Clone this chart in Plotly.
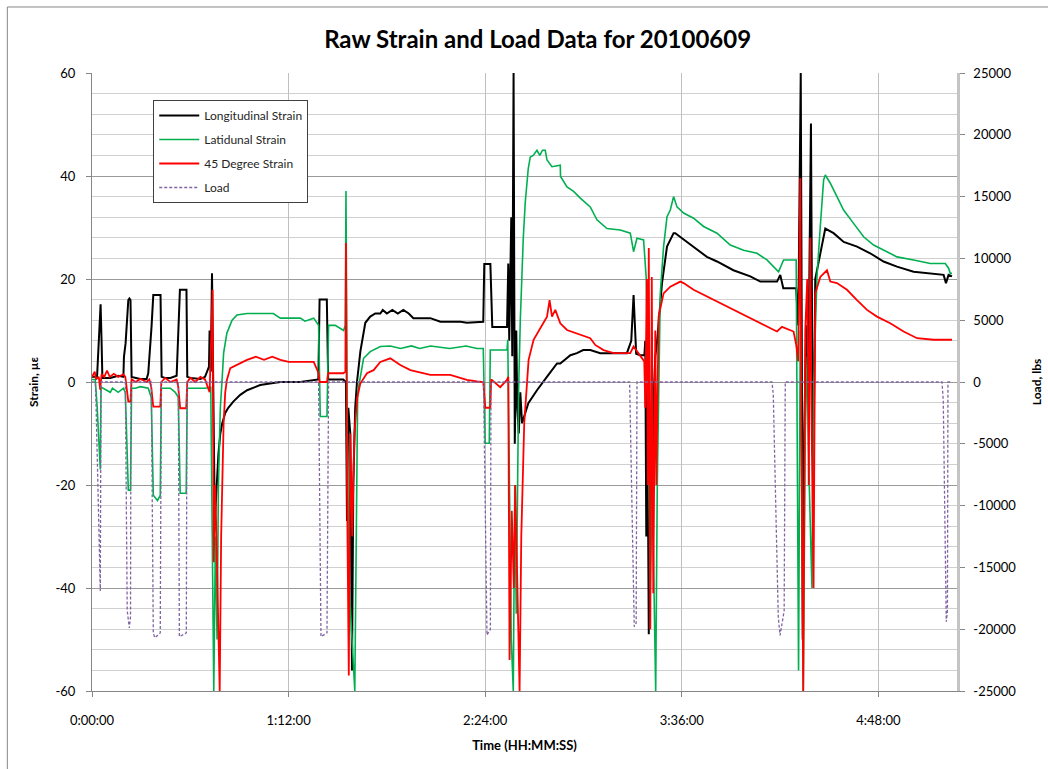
import plotly.graph_objects as go

# ---- time axis (minutes from start) and tick labels ----
x_range_min = [0, 316.8]
tick_minutes = [0, 72, 144, 216, 288]
tick_labels = ["0:00:00", "1:12:00", "2:24:00", "3:36:00", "4:48:00"]

# ---- value axes ticks ----
strain_ticks = [-60, -40, -20, 0, 20, 40, 60]
strain_tick_labels = ["-60", "-40", "-20", "0", "20", "40", "60"]
load_ticks = [-25000, -20000, -15000, -10000, -5000, 0, 5000, 10000, 15000, 20000, 25000]
load_tick_labels = ["-25000", "-20000", "-15000", "-10000", "-5000", "0",
                    "5000", "10000", "15000", "20000", "25000"]

# ---- Longitudinal strain (microstrain) ----
long_t = [0, 1.8, 1.9, 2.4, 3.15, 3.5, 3.8, 6.7, 9.6, 11.5, 11.7, 12.3, 13.3, 13.7, 14.1, 14.5,
          15.9, 17.7, 20.0, 20.6, 21.8, 22.45, 25.1, 25.5, 26.8, 28.7, 31.0, 32.2, 34.6, 34.9,
          36.0, 39.7, 41.4, 42.85, 43.07, 43.5, 43.95, 44.4, 44.97, 45.5, 46.3, 47.0, 47.7,
          48.8, 49.9, 51.75, 54.3, 56.8, 61.6, 66.4, 69.0, 76.3, 81.2, 82.9, 83.35, 86.0, 86.5,
          89.1, 92.0, 93.0, 93.39, 93.87, 94.6, 95.22, 95.7, 96.4, 97.05, 98.3, 100.1, 101.9,
          103.75, 105.6, 106.5, 108, 110, 112, 114, 116, 117.7, 120.2, 123.9, 127.6, 131.2, 135,
          137.3, 141.0, 143.3, 143.67, 145.9, 146.6, 149.5, 152.0, 152.46, 152.82, 153.56,
          153.92, 154.4, 154.84, 155.39, 155.76, 156.31, 156.86, 157.5, 158.7, 159.8, 162.97,
          165.4, 166.6, 170.3, 171.5, 175.2, 177.6, 179.9, 182.5, 186.15, 195.9, 197.5, 198.35,
          199.3, 200.8, 202.3, 202.64, 203.01, 203.37, 203.92, 204.47, 205.09, 205.57, 206.3,
          206.92, 208.76, 210.59, 213.0, 213.63, 216.08, 220.2, 225.2, 228.9, 234.9, 241.1,
          244.75, 250.9, 252.07, 253.17, 257.9, 258.66, 259.21, 259.57, 259.94, 260.3, 260.85,
          261.59, 262.32, 263.31, 263.79, 264.16, 264.89, 266.0, 266.73, 268.56, 271.6, 275.3,
          280.2, 285.0, 289.9, 294.8, 300.9, 307.0, 311.9, 312.76, 313.71, 314.96]
long_strain = [1.0, 1.0, 1.5, 6, 15.1, 8, 0.8, 0.8, 1.2, 1.0, 4.9, 7.5, 15.9, 16.2, 15.9, 1.0,
               0.8, 0.6, 0.6, 1.7, 10.7, 16.9, 16.9, 1.0, 0.8, 0.8, 1.2, 17.9, 17.9, 1.0,
               0.8, 0.6, 1.0, 3.0, 10, 2, 21.1, -5, -27, -22, -14, -10, -8,
               -6, -5, -3.8, -2.5, -1.6, -0.6, -0.2, 0, 0, 0.3, 0.5, 16, 16, 0.5,
               0.5, 0.5, 0, -27, -5, -10, -56, -20, -5, 0, 6, 11.5, 12.7,
               13.3, 13.3, 14, 13.3, 14, 13.3, 14, 13.3, 12.4, 12.4, 12.4, 11.7, 11.7, 11.7,
               11.5, 11.7, 11.7, 22.9, 22.9, 10.7, 10.7, 10.7, 23, 8, 32,
               5, 60, -12, 10, -5, -10, -2, -8, -6, -4.1, -1.6,
               0, 1, 3.6, 3.6, 5.2, 5.6, 6.2, 6.2, 5.6, 5.6, 8, 16.9,
               5.5, 5.2, 5.2, 8, -30, 0, -49, -10, -30, -5, 5,
               7.6, 19.2, 26.3, 28.9, 28.9, 27.9, 26.3, 24.3, 23.4, 21.7, 20.5,
               19.5, 19.5, 20.8, 18.2, 18.2, 11, 36, 60, 10, -50, -10,
               11, 0, 50.2, 5, -20, 20, 23, 25, 29.8, 28.9, 27.2,
               26.3, 25, 23.4, 22.4, 21.4, 21.1, 20.8, 19.2, 20.8, 20.5]

# ---- Latidunal strain (microstrain) ----
lat_t = [0, 1.2, 1.9, 3.04, 3.3, 4.1, 6.7, 7.5, 9.6, 11.5, 12.2, 13.3, 14.1, 14.5, 15.9, 17.7,
         20.6, 21.7, 22.45, 24, 25.0, 25.4, 28.7, 30.5, 31.6, 32.3, 34.5, 34.9, 37.8, 41.4,
         43.5, 44.6, 45.2, 45.8, 46.3, 47.0, 47.6, 48.2, 49.4, 51.3, 53.1, 56.8, 66.4, 68.96,
         72.6, 76.3, 78, 81.2, 82.99, 83.6, 86.06, 86.65, 89.1, 92.14, 92.77, 93.02, 93.5,
         94.23, 96.25, 96.8, 97.3, 99.47, 101.9, 105.6, 109.25, 113, 117, 120, 124, 131, 137,
         141, 143.3, 144.0, 145.5, 145.87, 149.5, 152.0, 152.27, 152.82, 153.56, 154.29,
         154.84, 155.39, 155.76, 156.23, 156.86, 157.22, 157.96, 158.69, 159.79, 160.52,
         161.6, 162.97, 164, 165, 166.0, 166.64, 168.47, 171.5, 171.6, 173.96, 176.38, 178.83,
         182.49, 184.94, 188.61, 193.48, 197.14, 198.35, 199.6, 202.02, 203.0, 203.74, 204.47,
         205.2, 206.45, 207.03, 207.58, 208.13, 209.34, 210.59, 211.8, 213.0, 214.25, 216.67,
         220.33, 223.99, 228.9, 233.77, 238.64, 243.54, 247.2, 251.45, 253.28, 256.94, 257.9,
         258.77, 259.39, 259.94, 260.49, 261.22, 261.95, 262.69, 263.68, 264.34, 265.52,
         266.73, 267.94, 268.56, 270.4, 272.84, 275.26, 278.92, 282.59, 286.25, 289.91,
         294.81, 300.9, 307.02, 312.5, 313.71, 314.34, 314.96]
lat_strain = [0.5, 0.5, -5, -17, -1, -1.2, -2, -1.2, -2, -1.2, -2, -21, -21, -1.2, -1.2, -0.9,
              -1.2, -3, -22, -23, -22, -1.2, -1.2, -2, -3, -21.6, -21.6, -1.2, -1.2, -1.2,
              -1, -60, -30, -50, -20, -5, 0, 5.6, 9.5, 12, 13, 13.3, 13.3, 12.4,
              12.4, 12.4, 11.8, 12.4, 11, -6.7, -6.7, 11, 11, 10, 11, 37.1, -10,
              -40, -60, -20, -2, 4.6, 5.9, 6.9, 7.0, 6.5, 7, 6.5, 7, 6.5, 7,
              6.5, 6.5, -11.9, -11.9, 6.2, 6.2, 6.2, 8.2, -20, -50, -60,
              -20, -45, -25, -2, 12, 18, 28, 35, 41.5, 43.7,
              44, 45, 44, 45, 45, 43.1, 41.8, 42.1, 39.9, 37.9, 37, 35.7,
              34, 31.5, 29.8, 29.5, 28.9, 25.3, 27.9, 27.6, 20, -10, -40,
              -20, -60, -20, 0, 17.2, 26.3, 32.1, 33.4, 36, 34, 32.8,
              31.8, 30.2, 28.9, 26.6, 25.6, 25, 23.7, 21.4, 23.7, 23.7, 23.7,
              -56, 10, -20, -60, -10, 5, -20, -40, 0, 20.5,
              30.2, 39.2, 40.2, 38.6, 36, 33.4, 30.8, 28.2, 26.6, 25.6,
              24.3, 23.7, 23, 23, 22.1, 21.1, 21.1]

# ---- 45 degree strain (microstrain) ----
deg45_t = [0, 1.0, 1.5, 2.5, 3.0, 3.5, 4.5, 5.5, 6.5, 8, 9.6, 11.5, 12.2, 13.3, 14.1, 14.5, 16,
           17.7, 20, 21.0, 21.7, 22.45, 25.0, 25.4, 26.8, 28.7, 31.0, 31.6, 32.3, 34.5, 34.9,
           36.0, 37.8, 39.7, 41.4, 43.07, 44.17, 44.6, 45.16, 46.77, 47.3, 48.2, 48.8, 49.4,
           50.65, 54.31, 56.77, 60, 63, 66, 69, 72, 76, 81.2, 82.99, 83.35, 86.06, 86.5, 89.1,
           92.0, 92.8, 93.02, 93.4, 94.05, 94.6, 95.3, 96.1, 97.16, 98.26, 100.71, 103.13,
           105.58, 109.25, 112.9, 116.6, 123.9, 131.2, 137.3, 141.0, 143.3, 144.04, 145.87,
           146.2, 149.5, 151.98, 152.46, 152.93, 153.74, 154.5, 155.02, 156.6, 157.22, 158.3,
           159.3, 159.9, 161.73, 164.18, 166.64, 167.59, 168.47, 169.68, 171.5, 173.96, 178.83,
           182.49, 184.32, 187.36, 191.03, 197.14, 198.35, 200.81, 202.27, 202.64, 203.19,
           203.56, 203.92, 204.47, 205.02, 205.57, 206.3, 206.67, 207.51, 209.34, 211.8,
           215.46, 216.67, 220.33, 225.24, 230.11, 236.22, 241.09, 245.96, 250.86, 252.7,
           256.94, 257.92, 258.66, 259.02, 259.39, 259.94, 260.49, 261.22, 261.95, 262.5,
           263.06, 263.6, 264.27, 264.89, 266.73, 269.19, 270.4, 272.84, 276.51, 280.17,
           283.83, 287.49, 292.36, 297.24, 302.15, 308.23, 314.96]
deg45_strain = [1.0, 2.0, 0.5, 1, -1.5, 1.5, 1, 2.2, 1, 1.6, 1, 1.5, 1, -3.8, -3.8, 0.5, 0,
                0.6, 0, 0.5, -1, -4.8, -4.8, 0, 0.8, 0, 0.5, -1, -5.1, -5.1, 0,
                0.8, 0, 1.0, 0.5, -2, 17.9, -35, -20, -60, -30, -8, -2, 0.4,
                2.7, 3.6, 4.3, 4.9, 4.3, 4.9, 4.3, 3.9, 3.9, 3.9, 1.7, 0, 0, 1.7, 1.7,
                1.7, 2, 27, -20, -57, -10, -30, -10, -3, -0.3, 1.7, 2.3,
                3.9, 4.6, 3.3, 2.3, 1.4, 1.4, 0.4, 0.1, 0, -5.0, -5.0,
                0.5, -1, 0.4, 1, -54, -25, -40, -20, -60, -30, -8,
                0, 4.3, 8.2, 10.4, 12.7, 15.9, 12.7, 14, 11.4, 10.1, 9.1,
                8.5, 7.2, 6.2, 5.6, 5.6, 6.9, 5.2, 4, -5, 20,
                -20, 26, -48, 20.4, -41, 10, -20, 12.7, 17.2, 18.5,
                19.5, 19.2, 17.9, 16.6, 15.3, 13.7, 12.4, 11.1, 9.8, 10.7,
                9.8, 7.2, 4, 20, 39.6, -20, -60, 10, 20, -20,
                28, -10, -40, 17.2, 20.4, 21.7, 19.5, 19.2, 17.9, 15.9,
                14, 12.7, 11.4, 9.8, 8.5, 8.2, 8.2]

# ---- Load (lbs) ----
load_t = [0, 1.21, 1.5, 3.04, 3.3, 12.2, 12.9, 13.66, 14.1, 14.28, 21.72, 22.45, 23.0, 25.0,
          25.38, 31.61, 32.0, 34.54, 34.79, 82.99, 83.86, 86.06, 86.65, 143.4, 144.66, 145.9,
          146.12, 196.9, 198.6, 199.3, 199.6, 249.03, 249.51, 251.34, 252.0, 253.5, 253.9,
          311.3, 311.77, 312.87, 313.3, 313.49, 314.96]
load_lbs = [0, 0, -2000, -16900, 0, 0, -18500, -19900, -19000, 0, 0, -20300, -20690, -20300,
            0, 0, -20600, -20300, 0, 0, -20600, -20300, 0, 0, -20470, -20000,
            0, 0, -19800, -19500, 0, 0, -1000, -19000, -20500, -18500, 0,
            0, -1500, -19400, -18500, 0, 0]

FONT = "Lato, 'Open Sans', sans-serif"

fig = go.Figure()
fig.add_trace(go.Scatter(x=long_t, y=long_strain, mode="lines", name="Longitudinal Strain",
                         legendgroup="a", line=dict(color="#000000", width=2)))
fig.add_trace(go.Scatter(x=lat_t, y=lat_strain, mode="lines", name="Latidunal Strain",
                         legendgroup="b", line=dict(color="#00B050", width=1.6)))
fig.add_trace(go.Scatter(x=deg45_t, y=deg45_strain, mode="lines", name="45 Degree Strain",
                         legendgroup="c", line=dict(color="#FF0000", width=1.8)))
fig.add_trace(go.Scatter(x=load_t, y=load_lbs, mode="lines", name="Load", yaxis="y2",
                         legendgroup="d", line=dict(color="#8064A2", width=1.3, dash="3px,2px")))

fig.update_layout(
    width=1048, height=769,
    margin=dict(l=92, r=91, t=73, b=78),
    paper_bgcolor="white", plot_bgcolor="white",
    font=dict(family=FONT, size=13, color="#000000"),
    title=dict(text="<b>Raw Strain and Load Data for 20100609</b>",
               font=dict(family=FONT, size=24, color="#000000"),
               x=0.513, xref="container", xanchor="center",
               y=0.948, yref="container", yanchor="middle"),
    showlegend=True,
    legend=dict(x=0.0708, y=0.9563, xanchor="left", yanchor="top",
                bgcolor="white", bordercolor="#404040", borderwidth=1,
                font=dict(family=FONT, size=12, color="#262626"),
                tracegroupgap=5, itemwidth=40, traceorder="grouped"),
    xaxis=dict(range=x_range_min, tickvals=tick_minutes, ticktext=tick_labels,
               automargin=False,
               showgrid=True, gridcolor="#bfbfbf", gridwidth=1, zeroline=False,
               showline=True, linecolor="#868686", linewidth=1,
               ticks="outside", ticklen=5, tickcolor="#868686", ticklabelstandoff=12,
               tickfont=dict(size=13),
               title=dict(text="<b>Time (HH:MM:SS)</b>", font=dict(size=13), standoff=14)),
    yaxis=dict(range=[-60, 60], tickvals=strain_ticks, ticktext=strain_tick_labels,
               automargin=False,
               showgrid=True, gridcolor="#9a9a9a", gridwidth=1, zeroline=False,
               minor=dict(dtick=4, tick0=0, showgrid=True, gridcolor="#d0d0d0", gridwidth=1),
               showline=True, linecolor="#868686", linewidth=1,
               ticks="outside", ticklen=5, tickcolor="#868686", ticklabelstandoff=8,
               tickfont=dict(size=13),
               title=dict(text="<b>Strain, µε</b>", font=dict(size=12), standoff=14)),
    yaxis2=dict(range=[-25000, 25000], tickvals=load_ticks, ticktext=load_tick_labels,
                overlaying="y", side="right", automargin=False,
                showgrid=False, zeroline=False,
                showline=True, linecolor="#c4c4c4", linewidth=2.5,
                ticks="outside", ticklen=5, tickcolor="#868686", ticklabelstandoff=6,
                tickfont=dict(size=13),
                title=dict(text="<b>Load, lbs</b>", font=dict(size=12), standoff=18)),
    shapes=[dict(type="rect", xref="paper", yref="paper",
                 x0=-0.0979, x1=1.12, y0=-0.16, y1=1.1068,
                 line=dict(color="#868686", width=1), fillcolor="rgba(0,0,0,0)", layer="below")],
)

fig.write_html("out.html")
